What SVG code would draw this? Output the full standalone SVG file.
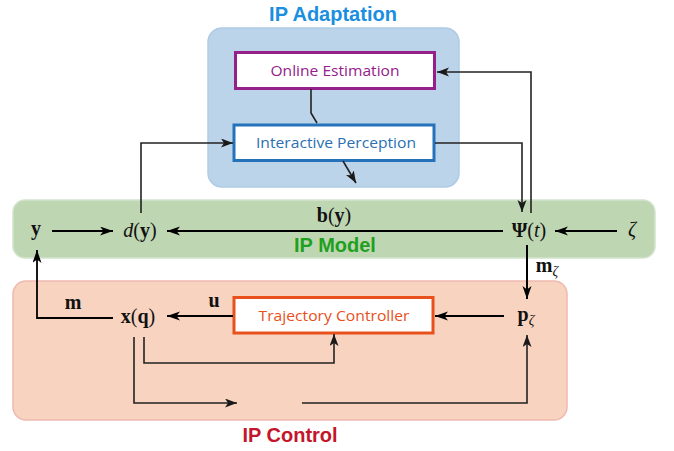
<svg xmlns="http://www.w3.org/2000/svg" width="674" height="451" viewBox="0 0 674 451">
<defs>
<marker id="ah" markerUnits="userSpaceOnUse" markerWidth="14" markerHeight="10" refX="13" refY="4.5" orient="auto">
<path d="M0,0 L13,4.5 L0,9 L3.5,4.5 z" fill="#000"/>
</marker>
<marker id="ahg" markerUnits="userSpaceOnUse" markerWidth="13" markerHeight="10" refX="12" refY="4.5" orient="auto">
<path d="M0,0 L12,4.5 L0,9 L3,4.5 z" fill="#1a1a1a"/>
</marker>
</defs>
<style>
.title{font-family:"Liberation Sans",Arial,sans-serif;font-weight:bold;font-size:20px;text-anchor:middle}
.lbl{font-family:"Open Sans","Noto Sans","Liberation Sans",sans-serif;font-size:14.5px;text-anchor:middle}
.math{font-family:"Liberation Serif","DejaVu Serif",serif;font-size:20px;text-anchor:middle;fill:#111}
.b{font-weight:bold}
.i{font-style:italic}
.sub{font-size:14px;font-style:italic}
.c{fill:none;stroke:#000;stroke-width:2}
.cg{fill:none;stroke:#222;stroke-width:1.6}
</style>
<rect width="674" height="451" fill="#fff"/>

<g id="ip-adaptation">
<rect x="208" y="28" width="251" height="159" rx="14" fill="#bcd4ea" stroke="#aecbe6" stroke-width="1.5"/>
<text class="title" x="333" y="21" fill="#1a8ee0">IP Adaptation</text>
</g>
<g id="ip-model">
<rect x="13" y="200" width="642" height="58" rx="12" fill="#bfd6b3" stroke="#d3e3cd" stroke-width="1.5"/>
<text class="title" x="335" y="252" fill="#1fa01f">IP Model</text>
</g>
<g id="ip-control">
<rect x="13" y="281" width="554" height="139" rx="13" fill="#f7d3c0" stroke="#f0b9b0" stroke-width="1.5"/>
<text class="title" x="290" y="442" fill="#c4162b">IP Control</text>
</g>

<g id="online-estimation">
<rect x="235.5" y="52.5" width="199" height="36" fill="#fff" stroke="#95208a" stroke-width="3"/>
<text class="lbl" x="335" y="76" fill="#95208a" textLength="129" lengthAdjust="spacingAndGlyphs">Online Estimation</text>
</g>
<g id="interactive-perception">
<rect x="234" y="125" width="200" height="35.5" fill="#fff" stroke="#2372ba" stroke-width="3"/>
<text class="lbl" x="336" y="148" fill="#2a6fb3" textLength="160" lengthAdjust="spacingAndGlyphs">Interactive Perception</text>
</g>
<g id="trajectory-controller">
<rect x="234" y="297.5" width="199" height="35.5" fill="#fff" stroke="#e8501c" stroke-width="3"/>
<text class="lbl" x="334" y="320.5" fill="#e8501c" textLength="151" lengthAdjust="spacingAndGlyphs">Trajectory Controller</text>
</g>

<g id="node-y"><text class="math b" x="36" y="235">y</text></g>
<g id="node-dy"><text class="math" x="140" y="237"><tspan class="i">d</tspan>(<tspan class="b">y</tspan>)</text></g>
<g id="node-psi"><text class="math" x="529" y="237"><tspan class="b">Ψ</tspan>(<tspan class="i">t</tspan>)</text></g>
<g id="node-zeta"><text class="math i" x="632" y="236">ζ</text></g>
<g id="node-xq"><text class="math" x="138" y="323"><tspan class="b">x</tspan>(<tspan class="b">q</tspan>)</text></g>
<g id="node-pzeta"><text class="math" x="526" y="321"><tspan class="b">p</tspan><tspan class="sub" dy="4">ζ</tspan></text></g>

<g id="connectors">
<line class="c" x1="52" y1="231" x2="113" y2="231" marker-end="url(#ah)"/>
<line class="c" x1="503" y1="231" x2="167" y2="231" marker-end="url(#ah)"/>
<line class="c" x1="617" y1="231" x2="555" y2="231" marker-end="url(#ah)"/>
<line class="c" x1="527" y1="245" x2="527" y2="299" marker-end="url(#ah)"/>
<line class="c" x1="504" y1="316" x2="435" y2="316" marker-end="url(#ah)"/>
<line class="c" x1="233" y1="316" x2="167" y2="316" marker-end="url(#ah)"/>
<polyline class="cg" points="113,318 37,318 37,250" marker-end="url(#ah)" style="stroke:#000;stroke-width:1.8"/>
<polyline class="cg" points="141,213 141,143 233,143" marker-end="url(#ahg)"/>
<polyline class="cg" points="435,143 522,143 522,212" marker-end="url(#ahg)"/>
<polyline class="cg" points="531,213 531,72 437,72" marker-end="url(#ahg)"/>
<polyline class="cg" points="311,89 311,113 317,123"/>
<line class="cg" x1="343" y1="161" x2="356" y2="183" marker-end="url(#ahg)"/>
<polyline class="cg" points="144,337 144,363 334,363 334,334" marker-end="url(#ahg)"/>
<polyline class="cg" points="134,337 134,403 237,403" marker-end="url(#ahg)"/>
<polyline class="cg" points="302,403 527,403 527,335" marker-end="url(#ahg)"/>
<text class="math" x="334" y="222"><tspan class="b">b</tspan>(<tspan class="b">y</tspan>)</text>
<text class="math b" x="73" y="309">m</text>
<text class="math b" x="214" y="307">u</text>
<text class="math" x="547" y="272"><tspan class="b">m</tspan><tspan class="sub" dy="4">ζ</tspan></text>
</g>
</svg>
